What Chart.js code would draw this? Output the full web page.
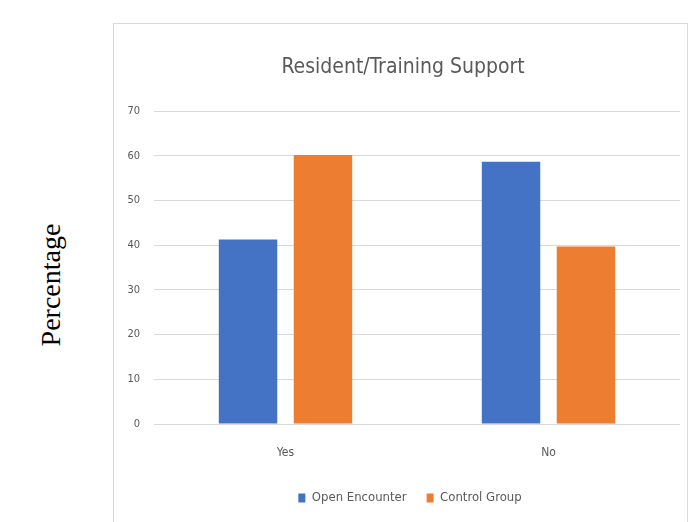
<!DOCTYPE html>
<html>
<head>
<meta charset="utf-8">
<script src="https://cdn.jsdelivr.net/npm/chart.js@4"></script>
<style>
    html, body { margin: 0; padding: 0; background: #fff; }
    body { width: 691px; height: 522px; position: relative; overflow: hidden; }
    #frame {
        position: absolute; left: 113px; top: 23px;
        width: 575px; height: 510px;
        border: 1px solid #d9d9d9;
        box-sizing: border-box;
    }
    #wrap { position: absolute; left: 0; top: 0; width: 574px; height: 499px; }
    #axis-label {
        position: absolute; left: 51px; top: 285px;
        transform: translate(-50%, -50%) rotate(-90deg);
        font-family: 'Liberation Serif', 'Times New Roman', serif;
        font-size: 28px; color: #000; white-space: nowrap;
    }
</style>
</head>
<body>
<div id="axis-label">Percentage</div>
<div id="frame">
    <div id="wrap"><canvas id="supportChart"></canvas></div>
</div>
<script>
const categories = ['Yes', 'No'];
const openEncounter = [41.3, 58.7];
const controlGroup = [60.2, 39.7];
const yTicks = [0, 10, 20, 30, 40, 50, 60, 70];

const narrow = "'Liberation Sans Narrow', 'DejaVu Sans Condensed', sans-serif";

// nudge the legend a little right of the canvas centre
const legendShift = {
    id: 'legendShift',
    afterLayout(chart) {
        if (chart.legend) {
            chart.legend.left += 7;
            chart.legend.right += 7;
        }
    }
};

new Chart(document.getElementById('supportChart'), {
    type: 'bar',
    data: {
        labels: categories,
        datasets: [
            { label: 'Open Encounter', data: openEncounter, backgroundColor: '#4472C4', borderWidth: 0 },
            { label: 'Control Group', data: controlGroup, backgroundColor: '#ED7D31', borderWidth: 0 }
        ]
    },
    plugins: [legendShift],
    options: {
        responsive: true,
        maintainAspectRatio: false,
        animation: false,
        categoryPercentage: 0.57,
        barPercentage: 0.78,
        layout: { padding: { left: 12, right: 8, top: 0, bottom: 8.5 } },
        scales: {
            x: {
                grid: { display: false, drawTicks: false },
                border: { display: false },
                afterFit: (scale) => { scale.height = 47.5; },
                ticks: { color: '#595959', padding: 22, font: { family: narrow, size: 12 } }
            },
            y: {
                min: 0,
                max: 70,
                afterBuildTicks: (scale) => { scale.ticks = yTicks.map(v => ({ value: v })); },
                afterFit: (scale) => { scale.width = 28; },
                grid: { color: '#d9d9d9', lineWidth: 1, drawTicks: false },
                border: { display: false },
                ticks: { color: '#595959', padding: 14, font: { family: narrow, size: 11 } }
            }
        },
        plugins: {
            title: {
                display: true,
                text: 'Resident/Training Support',
                color: '#595959',
                font: { family: narrow, size: 21, weight: 'normal' },
                padding: { top: 31, bottom: 31 }
            },
            legend: {
                position: 'bottom',
                labels: {
                    color: '#595959',
                    boxWidth: 7,
                    boxHeight: 9,
                    padding: 20,
                    font: { family: narrow, size: 13 }
                }
            },
            tooltip: { enabled: false }
        }
    }
});
</script>
</body>
</html>
